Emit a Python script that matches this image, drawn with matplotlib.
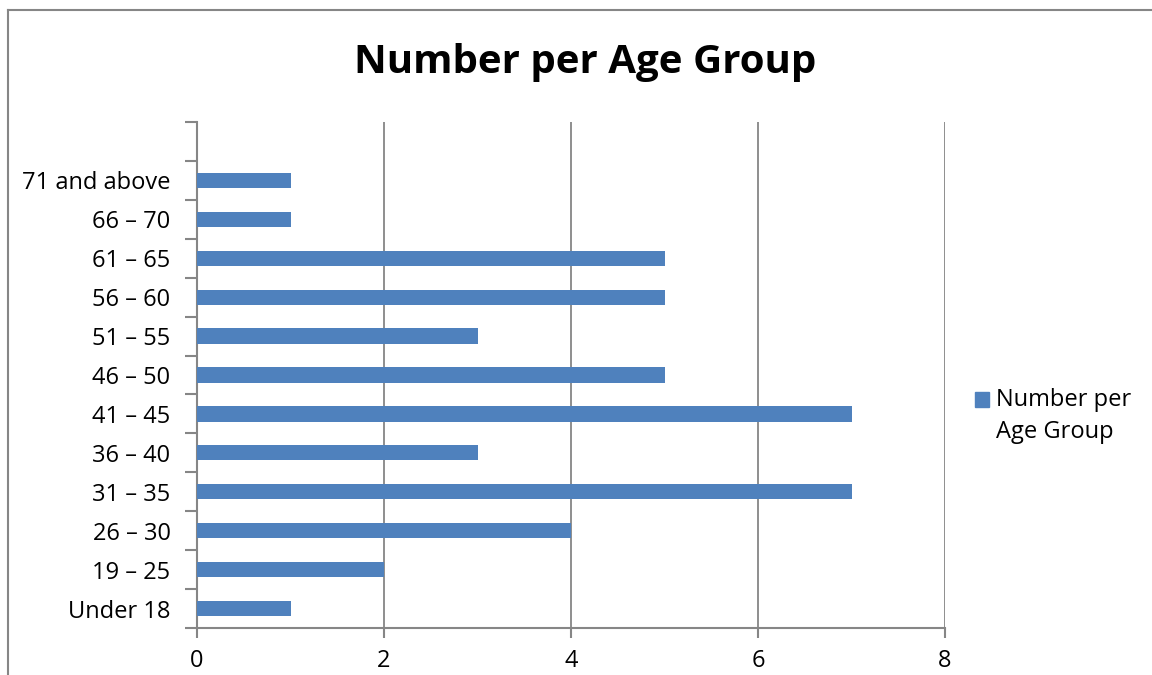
import numpy as np
import matplotlib.pyplot as plt
from matplotlib.patches import Rectangle
from matplotlib.lines import Line2D

# categories, bottom to top
groups = ["Under 18", "19 – 25", "26 – 30", "31 – 35", "36 – 40", "41 – 45",
          "46 – 50", "51 – 55", "56 – 60", "61 – 65", "66 – 70", "71 and above"]
counts = [1, 2, 4, 7, 3, 7, 5, 3, 5, 5, 1, 1]

bar_col = "#4F81BD"
grey = "#868686"
plt.rcParams['font.family'] = ['Open Sans', 'DejaVu Sans']

fig = plt.figure(figsize=(11.52, 6.75), dpi=100)
ax = fig.add_axes([197/1152, 47/675, (945-197)/1152, (628-122)/675])

y = np.arange(len(groups))
ax.barh(y, counts, height=0.39, color=bar_col, zorder=3)

ax.set_xlim(0, 8)
ax.set_ylim(-0.5, len(groups) + 0.5)
ax.set_xticks([0, 2, 4, 6, 8])
ax.set_yticks(y)
ax.set_yticklabels(groups)
ax.set_yticks(np.arange(-0.5, len(groups) + 1), minor=True)
ax.tick_params(axis='y', which='major', length=0, pad=19, labelsize=17)
ax.tick_params(axis='y', which='minor', length=9, width=1.5, color=grey)
ax.tick_params(axis='x', length=7, width=1.5, color=grey, pad=8, labelsize=17)
ax.grid(axis='x', color=grey, linewidth=1.3, zorder=0)

for s in ['top', 'right']:
    ax.spines[s].set_visible(False)
for s in ['left', 'bottom']:
    ax.spines[s].set_color(grey)
    ax.spines[s].set_linewidth(1.5)

fig.text(585/1152, 1 - 62/675, "Number per Age Group", ha='center', va='center',
         fontsize=29, fontweight='bold')

# legend
fig.patches.append(Rectangle((975/1152, 1 - 407/675), 14/1152, 15/675,
                             transform=fig.transFigure, color=bar_col))
fig.text(996/1152, 1 - 416/675, "Number per\nAge Group", ha='left', va='center',
         fontsize=17, linespacing=1.4)

# chart frame
fig.add_artist(Line2D([8/1152, 8/1152], [0, 1 - 10/675], transform=fig.transFigure,
                      color=grey, linewidth=1.5))
fig.add_artist(Line2D([8/1152, 1], [1 - 10/675, 1 - 10/675], transform=fig.transFigure,
                      color=grey, linewidth=1.5))

fig.savefig("out.png", dpi=100)
